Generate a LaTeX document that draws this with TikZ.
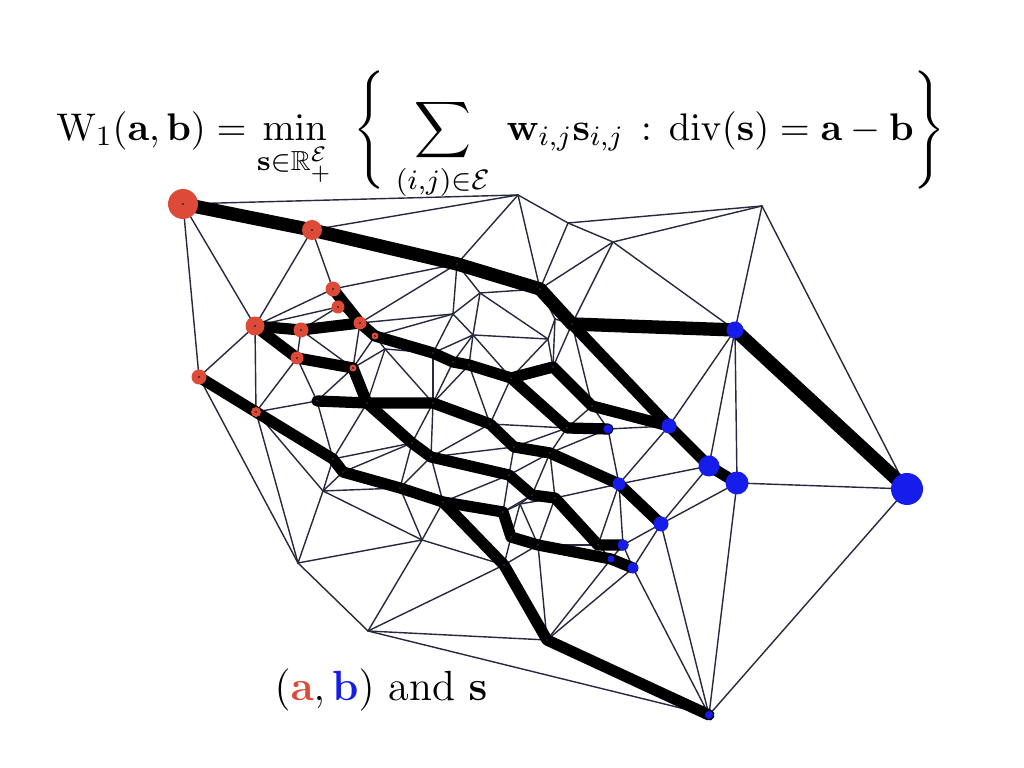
\documentclass[tikz,border=0pt]{standalone}
\usepackage{amsmath,amssymb}
\usepackage{tikz}
\definecolor{rojoFuente}{RGB}{222,74,56}
\definecolor{azulSumidero}{RGB}{22,28,236}
\definecolor{grisMalla}{RGB}{40,40,62}

\begin{document}
\begin{tikzpicture}[x=0.01cm, y=-0.01cm,
        mesh/.style={draw=grisMalla, line width=0.4pt},
        flow/.style={draw=black, line width=3.2pt, line join=round, line cap=round},
        src/.style={fill=rojoFuente},
        snk/.style={fill=azulSumidero},
        dot/.style={fill=grisMalla}
    ]
    \useasboundingbox (0,0) rectangle (1024,768);

    % vertices (sources a, sinks b, hull h, inner v)
    \foreach \n/\x/\y in {a1/183/204, a2/312/230, a3/333/289, a4/338/307, a5/255/326,
        a6/301/330, a7/360/323, a8/375/336, a9/297/358, a10/353/368, a11/199/377, a12/256/412,
        b1/735/330, b2/669/426, b3/709/466, b4/737/483, b5/907/489, b6/619/484, b7/661/524,
        b8/623/545, b9/611/559, b10/633/568, b11/709/715, b12/608/429,
        h1/518/195, h2/762/206, h3/368/631, h4/298/563,
        v1/457/264, v2/540/289, v3/572/324, v4/568/223, v5/613/242, v6/480/293, v7/453/314,
        v8/555/319, v9/473/335, v10/548/339, v11/433/353, v12/453/362, v13/469/365,
        v14/511/378, v15/553/367, v16/592/406, v17/567/428, v18/490/424, v19/385/349,
        v20/317/401, v21/367/403, v22/433/403, v23/514/447, v24/550/453, v25/412/443,
        v26/431/457, v27/509/475, v28/532/495, v29/555/498, v30/598/545, v31/333/459,
        v32/343/472, v33/400/488, v34/443/502, v35/503/512, v36/511/537, v37/538/545,
        v38/504/565, v39/547/640, v40/323/491, v41/422/540, v43/520/504}
        \coordinate (\n) at (\x,\y);

    % triangulation
    \foreach \u/\v in {a1/h1, a1/a5, a1/a11, a2/h1, a2/a5, a2/a3, a3/a5, a3/a4, a4/a5,
        a4/a6, a4/a7, a3/v1, a7/v1, a7/v7, a8/v7, v7/v11, v1/v7, v1/v6, v6/v7,
        h1/v1, h1/v2, h1/v4, v4/v2, v4/h2, v4/v5, v5/v2, v5/h2, v5/v3, v5/b1, h2/b1, h2/b5,
        v2/v6, v2/v8, v8/v3, v8/v10, v8/v15, v3/v15, v6/v9, v6/v10, v7/v9, v9/v11, v9/v12,
        v9/v13, v9/v14, v9/v10, v10/v14, v10/v15, v3/v16, v16/v17, v16/b12,
        b1/b2, b1/b3, b1/b4, b4/b5, b2/b12, b2/b6, b3/b6, b3/b7, b4/b7, b6/b12, b12/v24,
        v14/v18, v13/v18, v13/v22, v12/v22, v11/v22, v11/v19, a8/v19, a10/v19, v19/v21,
        v19/v22, a8/a10, a7/a10, a6/a10, a6/a9, a9/a12, a9/v20, a10/v20, a5/a12, a5/a11,
        a12/v20, a12/v31, a12/v40, a12/h4, a11/h4, v20/v31, v21/v31, v25/v31, v25/v32,
        v25/v33, v25/v22, v31/v40, v32/v40, v33/v40, v40/h4, v40/v41, v41/h4, h4/h3,
        v41/h3, v41/v33, v41/v34, v41/v38, v38/h3, h3/v39, h3/b11, v33/v26, v26/v34,
        v22/v26, v26/v18, v26/v23, v18/v17, v17/v23, v17/v24, v23/v27, v24/v27, v24/v28,
        v24/v29, v29/b6, b6/v30, b6/b8, v27/v34, v27/v35, v28/v35, v43/v35, v43/v36,
        v43/v37, v43/v28, v43/v29, v29/v37, v37/v30, v30/b9, v36/v38, v37/v38, v37/v39,
        b8/b9, b8/b10, b7/b8, b7/b10, v39/b9, v39/b10, b10/b11, b7/b11, b4/b11, b5/b11}
        \draw[mesh] (\u) -- (\v);

    % flows s
    \draw[flow, line width=3.8pt] (a1) -- (a2) -- (v1) -- (v2) -- (v3) -- (b1) -- (b5);
    \draw[flow] (v3) -- (b2) -- (b3) -- (b4);
    \draw[flow] (a3) -- (a7) -- (a8) -- (v11) -- (v12) -- (v13) -- (v14) -- (v15) -- (v16) -- (b2);
    \draw[flow] (a5) -- (a6) -- (a7);
    \draw[flow] (v14) -- (v17) -- (b12);
    \draw[flow] (a5) -- (a9) -- (a10) -- (v21) -- (v25) -- (v26) -- (v27) -- (v28) -- (v29) -- (v30) -- (b8);
    \draw[flow] (v20) -- (v21) -- (v22) -- (v18) -- (v23) -- (v24) -- (b6) -- (b7);
    \draw[flow] (a11) -- (a12) -- (v31) -- (v32) -- (v33) -- (v34) -- (v35) -- (v36) -- (v37) -- (b9) -- (b10);
    \draw[flow] (v34) -- (v38) -- (v39) -- (b11);

    % masses a and b
    \foreach \n/\r in {a1/15, a2/10, a3/7.5, a4/6.5, a5/9.5, a6/7.5, a7/6.5, a8/3.5,
        a9/6.5, a10/3.5, a11/7.5, a12/5}
        \fill[src] (\n) circle[radius=\r*0.01cm];
    \foreach \n/\r in {b1/8.5, b2/7.5, b3/10.5, b4/11.5, b5/16, b6/6.5, b7/7.5, b8/5.5,
        b9/3.5, b10/5.5, b11/4, b12/4.5}
        \fill[snk] (\n) circle[radius=\r*0.01cm];
    \foreach \n in {a1,a2,a3,a4,a5,a6,a7,a8,a9,a10,a11,a12,v1,v2,v3,v4,v5,v6,v7,v8,v9,v10,
        v11,v12,v13,v14,v15,v16,v17,v18,v19,v20,v21,v22,v23,v24,v25,v26,v27,v28,v29,v30,
        v31,v32,v33,v34,v35,v36,v37,v38,v39,v40,v41,v43,h1,h2,h3,h4}
        \fill[dot] (\n) circle[radius=0.012cm];

    \node[font=\fontsize{11.2}{13}\selectfont] (formula) at (501,136)
        {$\displaystyle \mathrm{W}_1(\mathbf a,\mathbf b)=\min_{\mathbf s\in\mathbb R_+^{\mathcal E}}\;\;
        \Biggl\{\;\sum_{(i,j)\in\mathcal E}\;\mathbf w_{i,j}\mathbf s_{i,j}\,:\,\mathrm{div}(\mathbf s)=\mathbf a-\mathbf b\Biggr\}$};
    \node[font=\fontsize{12}{14}\selectfont] (legend) at (381,690)
        {$(\textcolor{rojoFuente}{\mathbf a},\textcolor{azulSumidero}{\mathbf b})$ and $\mathbf s$};
\end{tikzpicture}
\end{document}
